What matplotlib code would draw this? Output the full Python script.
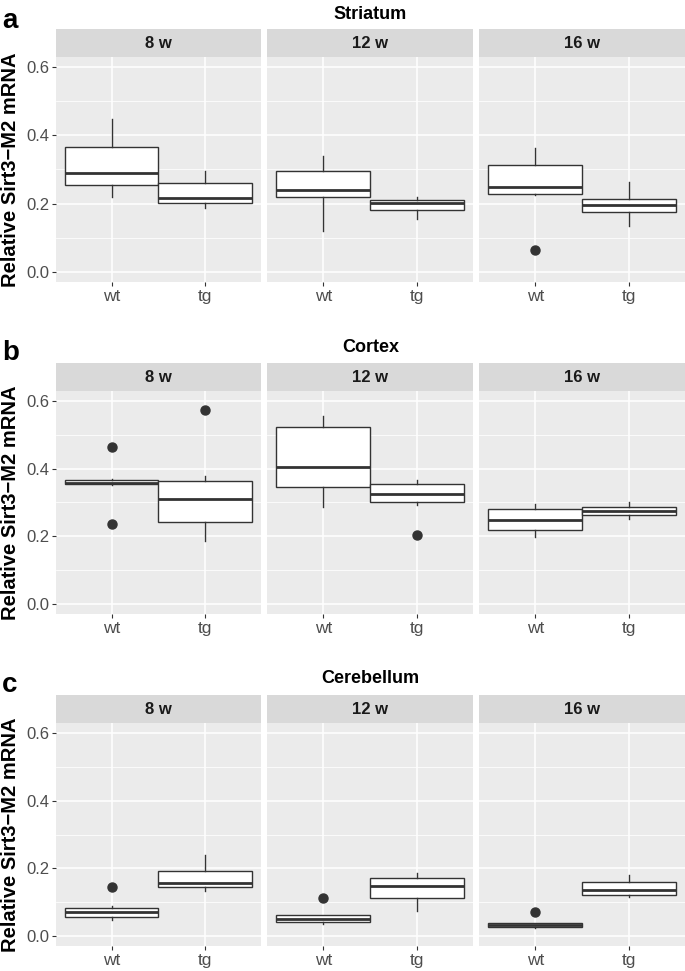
import numpy as np
import matplotlib
matplotlib.use("Agg")
import matplotlib.pyplot as plt

plt.rcParams['font.family'] = ['Liberation Sans', 'DejaVu Sans']

# Data, indexed [region][age][group]
regions = ["Striatum", "Cortex", "Cerebellum"]
letters = ["a", "b", "c"]
ages = ["8 w", "12 w", "16 w"]
groups = ["wt", "tg"]
yticks = [0.0, 0.2, 0.4, 0.6]
yminor = [0.1, 0.3, 0.5]

whislo = [
    [[0.220, 0.188], [0.119, 0.156], [0.224, 0.135]],
    [[0.352, 0.187], [0.288, 0.293], [0.199, 0.251]],
    [[0.047, 0.134], [0.035, 0.075], [0.022, 0.116]],
]
q1 = [
    [[0.255, 0.203], [0.219, 0.180], [0.227, 0.174]],
    [[0.354, 0.242], [0.346, 0.300], [0.219, 0.262]],
    [[0.055, 0.144], [0.041, 0.112], [0.026, 0.122]],
]
med = [
    [[0.290, 0.215], [0.241, 0.202], [0.250, 0.196]],
    [[0.359, 0.310], [0.404, 0.324], [0.247, 0.274]],
    [[0.070, 0.157], [0.051, 0.148], [0.032, 0.136]],
]
q3 = [
    [[0.365, 0.259], [0.296, 0.210], [0.312, 0.213]],
    [[0.368, 0.365], [0.523, 0.354], [0.282, 0.286]],
    [[0.081, 0.192], [0.061, 0.170], [0.037, 0.158]],
]
whishi = [
    [[0.449, 0.297], [0.340, 0.218], [0.364, 0.262]],
    [[0.371, 0.378], [0.556, 0.366], [0.296, 0.300]],
    [[0.089, 0.239], [0.061, 0.186], [0.039, 0.180]],
]
outliers = {
    (0, 2, 0): [0.064],
    (1, 0, 0): [0.465, 0.235],
    (1, 0, 1): [0.575],
    (1, 1, 1): [0.203],
    (2, 0, 0): [0.146],
    (2, 1, 0): [0.113],
    (2, 2, 0): [0.070],
}

W, H = 685, 971
fig = plt.figure(figsize=(W / 100, H / 100), dpi=100)


def px(x0, y0, x1, y1):
    return [x0 / W, 1 - y1 / H, (x1 - x0) / W, (y1 - y0) / H]


facet_x = [(56, 261), (267, 473), (479, 685)]
panel_y = [(57, 282), (391, 614), (723, 946)]
title_base = [19, 352, 683]
letter_base = [28, 360, 692]
strip_h = 28
edge = "#333333"

for r, region in enumerate(regions):
    top, bot = panel_y[r]
    for a, age in enumerate(ages):
        x0, x1 = facet_x[a]
        ax = fig.add_axes(px(x0, top, x1, bot))
        ax.set_facecolor("#EBEBEB")
        stats = []
        for g, grp in enumerate(groups):
            stats.append(dict(med=med[r][a][g], q1=q1[r][a][g], q3=q3[r][a][g],
                              whislo=whislo[r][a][g], whishi=whishi[r][a][g],
                              fliers=outliers.get((r, a, g), [])))
        ax.bxp(stats, positions=[1, 2], widths=1.0, showcaps=False, patch_artist=True,
               boxprops=dict(facecolor="white", edgecolor=edge, linewidth=1.0),
               whiskerprops=dict(color=edge, linewidth=1.0),
               medianprops=dict(color=edge, linewidth=2.0, solid_capstyle="butt"),
               flierprops=dict(marker="o", markerfacecolor=edge, markeredgecolor=edge,
                               markersize=6.5))
        ax.set_xlim(0.4, 2.6)
        ax.set_ylim(-0.03, 0.63)
        ax.set_yticks(yticks)
        ax.set_yticks(yminor, minor=True)
        ax.set_xticks([1, 2])
        ax.set_xticklabels(groups)
        ax.grid(True, which="major", color="white", linewidth=1.1)
        ax.grid(True, which="minor", axis="y", color="white", linewidth=0.55)
        ax.set_axisbelow(True)
        for s in ax.spines.values():
            s.set_visible(False)
        ax.tick_params(axis="both", which="major", length=3, width=0.8, color=edge,
                       labelcolor="#4D4D4D", pad=2)
        ax.tick_params(axis="x", labelsize=12.5)
        ax.tick_params(axis="y", labelsize=12)
        ax.tick_params(axis="y", which="minor", length=0)
        if a == 0:
            ax.set_yticklabels(["%.1f" % v for v in yticks])
        else:
            ax.tick_params(axis="y", which="major", length=0, labelleft=False)

        # strip
        sax = fig.add_axes(px(x0, top - strip_h, x1, top))
        sax.set_facecolor("#D9D9D9")
        sax.set_xticks([])
        sax.set_yticks([])
        for s in sax.spines.values():
            s.set_visible(False)
        sax.text(0.5, 0.5, age, ha="center", va="center", fontsize=12,
                 fontweight="bold", color="#1A1A1A", transform=sax.transAxes)

    fig.text((facet_x[0][0] + facet_x[2][1]) / 2 / W, 1 - title_base[r] / H, region,
             ha="center", va="baseline", fontsize=13, fontweight="bold")
    fig.text(2 / W, 1 - letter_base[r] / H, letters[r], ha="left", va="baseline",
             fontsize=20, fontweight="bold")
    fig.text(11 / W, 1 - (top + bot) / 2 / H, "Relative Sirt3\u2212M2 mRNA",
             rotation=90, ha="center", va="center", fontsize=14.5, fontweight="bold")

fig.savefig("out.png", dpi=100)
